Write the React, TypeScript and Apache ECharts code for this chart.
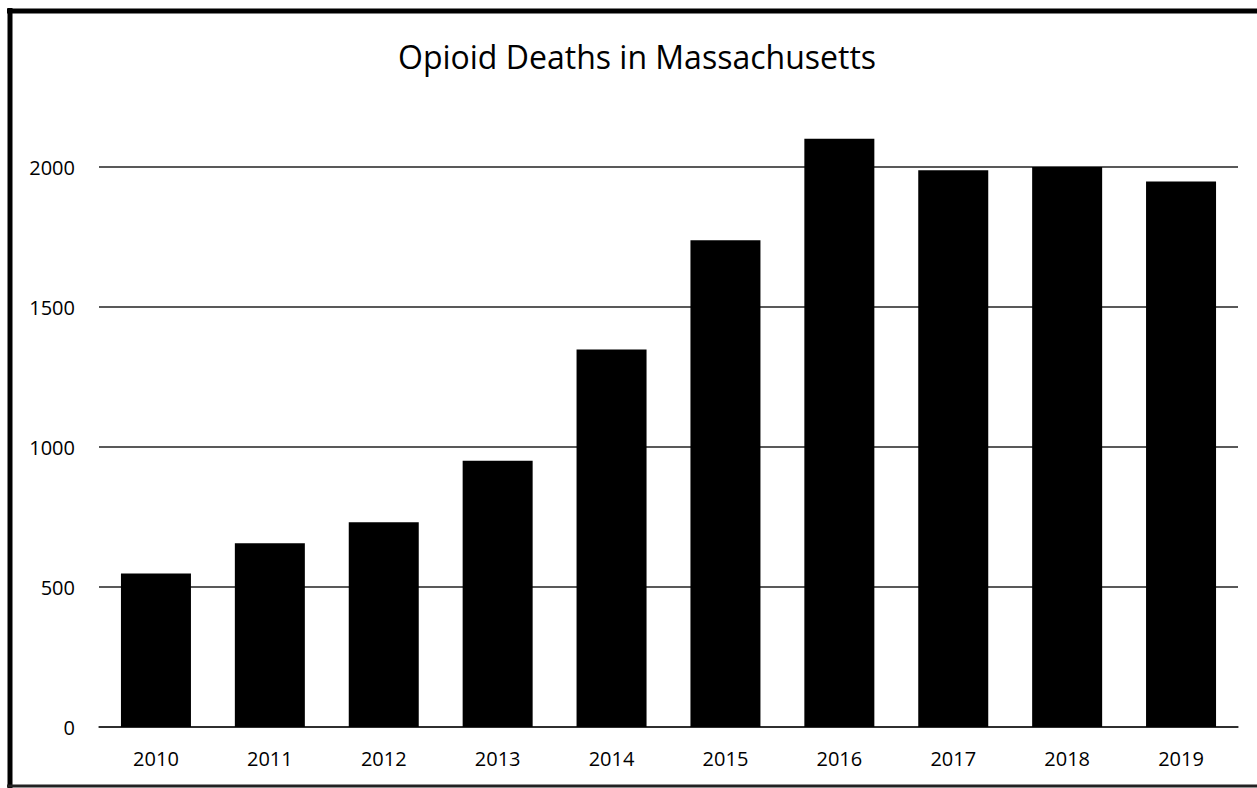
import React, { useEffect, useRef } from "react";
import * as echarts from "echarts";

const years: string[] = ["2010", "2011", "2012", "2013", "2014", "2015", "2016", "2017", "2018", "2019"];
const deaths: number[] = [548, 656, 731, 951, 1348, 1738, 2101, 1988, 2000, 1948];
const titleText = "Opioid Deaths in Massachusetts";
const yTicks: number[] = [0, 500, 1000, 1500, 2000];

export default function App() {
  const ref = useRef<HTMLDivElement>(null);
  useEffect(() => {
    if (!ref.current) return;
    const chart = echarts.init(ref.current, null, { renderer: "svg" });
    const font = "'Open Sans', 'Liberation Sans', sans-serif";
    chart.setOption({
      animation: false,
      backgroundColor: "#ffffff",
      textStyle: { fontFamily: font },
      grid: { left: 99, right: 19, top: 167, bottom: 61, containLabel: false },
      graphic: [
        { type: "text", x: 637, y: 56, style: { text: titleText, font: `32px ${font}`, fill: "#000", textAlign: "center", textVerticalAlign: "middle" } },
        { type: "line", shape: { x1: 10, y1: 8, x2: 10, y2: 788 }, style: { stroke: "#000", lineWidth: 5 } },
        { type: "line", shape: { x1: 7, y1: 11, x2: 1257, y2: 11 }, style: { stroke: "#000", lineWidth: 5 } },
        { type: "line", shape: { x1: 7, y1: 786, x2: 1257, y2: 786 }, style: { stroke: "#222", lineWidth: 3 } },
      ],
      xAxis: {
        type: "category",
        data: years,
        axisLine: { show: true, lineStyle: { color: "#222", width: 1.5 } },
        axisTick: { show: false },
        axisLabel: { color: "#000", fontSize: 20, margin: 21, fontFamily: font },
      },
      yAxis: {
        type: "value",
        min: 0,
        max: 2000,
        interval: 500,
        axisLine: { show: false },
        axisTick: { show: false },
        axisLabel: {
          color: "#000",
          fontSize: 20,
          margin: 24,
          fontFamily: font,
          formatter: (v: number) => (yTicks.includes(v) ? String(v) : ""),
        },
        splitLine: { show: true, lineStyle: { color: "#222", width: 1.5 } },
      },
      series: [
        {
          type: "bar",
          data: deaths,
          barWidth: 70,
          clip: false,
          itemStyle: { color: "#000" },
        },
      ],
    });
    return () => chart.dispose();
  }, []);
  return (
    <div
      ref={ref}
      style={{ position: "fixed", left: 0, top: 0, width: 1257, height: 788, background: "#fff" }}
    />
  );
}
